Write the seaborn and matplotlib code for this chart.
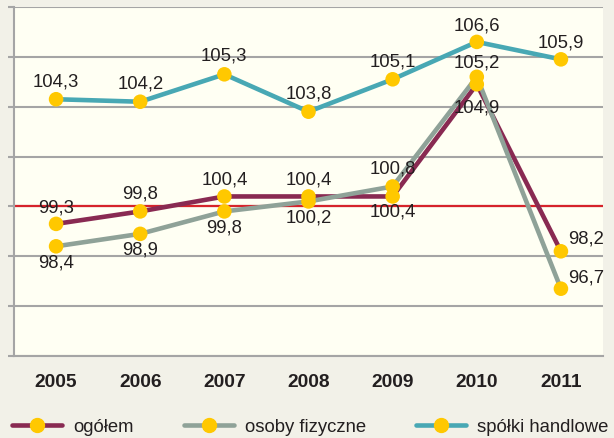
import matplotlib
matplotlib.use("Agg")
import matplotlib.pyplot as plt
from matplotlib.lines import Line2D
import seaborn as sns
import pandas as pd

years = [2005, 2006, 2007, 2008, 2009, 2010, 2011]
ogolem = [99.3, 99.8, 100.4, 100.4, 100.4, 104.9, 98.2]
osoby = [98.4, 98.9, 99.8, 100.2, 100.8, 105.2, 96.7]
spolki = [104.3, 104.2, 105.3, 103.8, 105.1, 106.6, 105.9]
series_names = ["ogółem", "osoby fizyczne", "spółki handlowe"]
series_values = [ogolem, osoby, spolki]

# styles (kept separate from data)
colors = ["#892a52", "#8fa298", "#48a8b4"]
marker_color = "#ffc800"
bg_out = "#f2f1e8"
bg_in = "#fffff3"
grid_col = "#a5a5a5"
text_col = "#231f20"
# label offsets in pixels (dx, dy) for each series / point
offsets = [
    [(0, 16), (0, 17), (0, 16), (0, 16), (0, -16), (0, -24), (25, 12)],
    [(0, -17), (0, -16), (0, -17), (0, -17), (0, 17), (0, 14), (25, 11)],
    [(0, 17), (0, 18), (0, 18), (0, 18), (0, 17), (0, 16), (0, 16)],
]

sns.set_style("white")
plt.rcParams["font.family"] = ["Liberation Sans", "DejaVu Sans"]

fig = plt.figure(figsize=(6.14, 4.38), dpi=100, facecolor=bg_out)
ax = fig.add_axes([14 / 614, (438 - 356) / 438, (603 - 14) / 614, (356 - 7) / 438])
ax.set_facecolor(bg_in)

df = pd.DataFrame({
    "year": years * 3,
    "value": ogolem + osoby + spolki,
    "series": [s for s in series_names for _ in years],
})

# reference line at 100
ax.axhline(100, color="#d6232b", lw=1.6, zorder=1.5)

sns.lineplot(data=df, x="year", y="value", hue="series", hue_order=series_names,
             palette=colors, lw=3.3, legend=False, ax=ax, zorder=2)
sns.scatterplot(data=df, x="year", y="value", color=marker_color, s=110,
                edgecolor="none", legend=False, ax=ax, zorder=3)

for vals, offs in zip(series_values, offsets):
    for x, v, (dx, dy) in zip(years, vals, offs):
        ax.annotate(f"{v:.1f}".replace(".", ","), (x, v), xytext=(dx, dy),
                    textcoords="offset pixels", ha="center", va="center",
                    fontsize=13.3, color=text_col, zorder=4)

ax.set_xlim(2004.5, 2011.5)
ax.set_ylim(94, 108)
ax.set_yticks(range(94, 109, 2))
ax.set_yticklabels([])
ax.set_xticks(years)
ax.set_xticklabels([str(y) for y in years], fontsize=13.8, fontweight="bold",
                   color=text_col)
ax.tick_params(axis="x", length=0, pad=13)
ax.tick_params(axis="y", length=4, width=1.5, color=grid_col, left=True)
ax.grid(axis="y", color=grid_col, lw=1.5)
ax.grid(axis="x", visible=False)
ax.set_xlabel("")
ax.set_ylabel("")
for side in ["top", "right"]:
    ax.spines[side].set_visible(False)
for side in ["left", "bottom"]:
    ax.spines[side].set_color(grid_col)
    ax.spines[side].set_linewidth(1.5)

handles = [Line2D([0], [0], color=c, lw=3.3, marker="o", markersize=10,
                  markerfacecolor=marker_color, markeredgecolor=marker_color)
           for c in colors]
fig.legend(handles, series_names, loc="center left",
           bbox_to_anchor=(12 / 614, 11 / 438), ncol=3, frameon=False,
           fontsize=13.3, handlelength=2.7, handletextpad=0.62, columnspacing=2.7,
           borderpad=0, borderaxespad=0, labelcolor=text_col)

fig.savefig("out.png", dpi=100, facecolor=bg_out)
